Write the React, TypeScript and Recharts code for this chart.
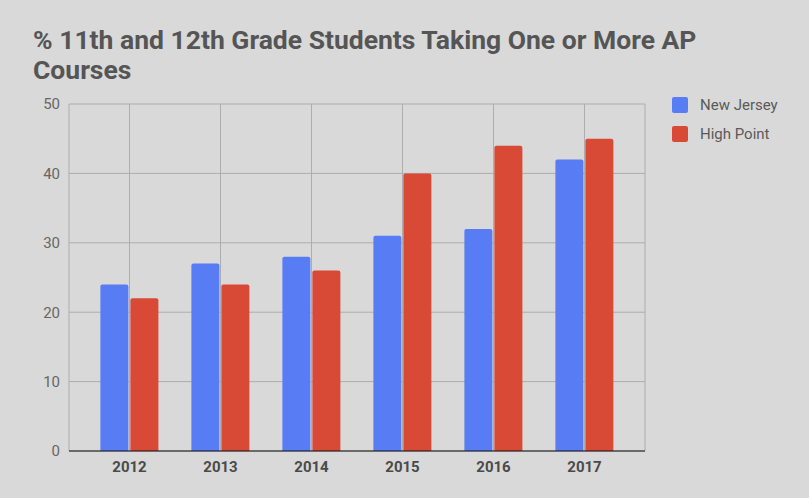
import React from 'react';
import { BarChart, Bar, XAxis, YAxis, CartesianGrid } from 'recharts';

const years = ['2012', '2013', '2014', '2015', '2016', '2017'];
const newJersey = [24, 27, 28, 31, 32, 42];
const highPoint = [22, 24, 26, 40, 44, 45];
const yTicks = [0, 10, 20, 30, 40, 50];
const titleLines = ['% 11th and 12th Grade Students Taking One or More AP', 'Courses'];

const data = years.map((year, i) => ({ year, nj: newJersey[i], hp: highPoint[i] }));

const BLUE = '#587cf4';
const RED = '#d84a36';

const series = [
    { key: 'nj', name: 'New Jersey', color: BLUE },
    { key: 'hp', name: 'High Point', color: RED },
];

export default function App() {
    return (
        <div style={{ position: 'relative', width: 809, height: 498, background: '#d9d9d9', fontFamily: 'Roboto, sans-serif' }}>
            <style>{`body{margin:0}`}</style>
            {titleLines.map((line, i) => (
                <div
                    key={i}
                    style={{ position: 'absolute', left: 33, top: 25 + i * 30, fontSize: 26.5, lineHeight: '30px', fontWeight: 700, color: '#555', whiteSpace: 'nowrap' }}
                >
                    {line}
                </div>
            ))}
            <div style={{ position: 'absolute', left: 672, top: 90 }}>
                {series.map(s => (
                    <div key={s.key} style={{ display: 'flex', alignItems: 'center', height: 29 }}>
                        <span style={{ width: 16, height: 16, background: s.color, borderRadius: 2, marginRight: 12 }} />
                        <span style={{ fontSize: 15, color: '#5a5a5a' }}>{s.name}</span>
                    </div>
                ))}
            </div>
            <div style={{ position: 'absolute', left: 0, top: 0 }}>
                <BarChart
                    width={809}
                    height={498}
                    data={data}
                    margin={{ top: 104, right: 164, bottom: 17, left: 8 }}
                    barCategoryGap="18%"
                    barGap={2}
                >
                    <CartesianGrid stroke="#adadad" />
                    <XAxis
                        dataKey="year"
                        height={30}
                        padding={{ left: 15, right: 15 }}
                        axisLine={{ stroke: '#111' }}
                        tickLine={false}
                        tickSize={0}
                        tickMargin={10}
                        tick={{ fontSize: 15, fontWeight: 700, fill: '#4a4a4a' }}
                    />
                    <YAxis
                        domain={[0, 50]}
                        ticks={yTicks}
                        width={61}
                        axisLine={false}
                        tickLine={false}
                        tickSize={0}
                        tickMargin={9}
                        tick={{ fontSize: 15, fill: '#666' }}
                    />
                    {series.map(s => (
                        <Bar key={s.key} dataKey={s.key} name={s.name} fill={s.color} radius={[2, 2, 0, 0]} isAnimationActive={false} />
                    ))}
                </BarChart>
            </div>
        </div>
    );
}
